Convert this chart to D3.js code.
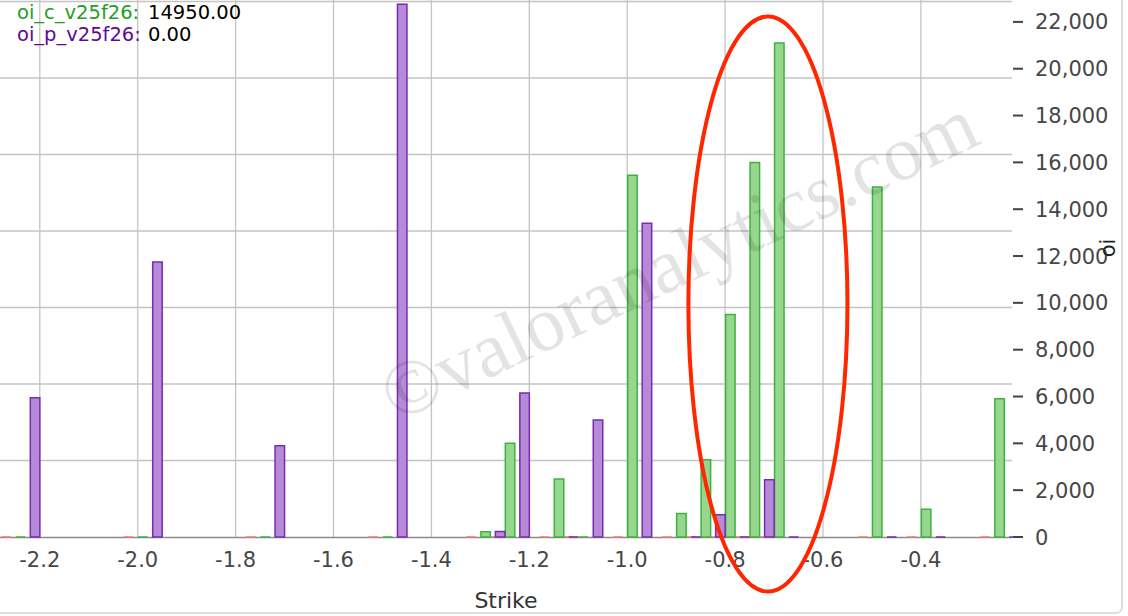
<!DOCTYPE html>
<html><head><meta charset="utf-8">
<script src="https://cdn.jsdelivr.net/npm/d3@7"></script>
<style>html,body{margin:0;padding:0;background:#fff;overflow:hidden}</style>
</head><body>
<svg id="c" width="1128" height="616"></svg>
<script>
// ---- data ----
const strikes = [-2.25, -2.0, -1.75, -1.5, -1.3, -1.25, -1.15, -1.1, -1.0, -0.9, -0.85, -0.8, -0.75, -0.7, -0.5, -0.4, -0.25];
const callOI  = [0, 0, 0, 0, 225, 4000, 2480, 0, 15450, 1000, 3300, 9500, 16000, 21100, 14950, 1180, 5900];
const putOI   = [5950, 11750, 3900, 22750, 240, 6150, 0, 5000, 13400, 0, 950, 0, 2450, 0, 0, 0, 0];
const otherOI = [0, 0, 0, 0, 0, 0, 0, 0, 0, 0, 0, 0, 0, 0, 0, 0, 0];
const xTickValues = [-2.2, -2.0, -1.8, -1.6, -1.4, -1.2, -1.0, -0.8, -0.6, -0.4];
const yTickValues = [0, 2000, 4000, 6000, 8000, 10000, 12000, 14000, 16000, 18000, 20000, 22000];
const gridSteps = [1, 2, 3, 4, 5, 6, 7];
const legendNames = ["oi_c_v25f26", "oi_p_v25f26"];
const legendValues = [14950, 0];
const xTitle = "Strike";
const yTitle = "oi";
const watermark = "\u00A9valoranalytics.com";

// ---- layout ----
const svg = d3.select("#c");
const L = 0, R = 1012, T = 0, B = 537;
const x = d3.scaleLinear().domain([-2.2813, -0.2139]).range([L, R]);
const y = d3.scaleLinear().domain([0, 22935]).range([B, T]);
const yGrid = d3.scaleLinear().domain([0, 7]).range([B, 1.5]);
const sub = d3.scaleBand().domain(["other", "call", "put"]).range([-14, 24.5]).paddingInner(0.345);
const FONT = "DejaVu Sans, Verdana, sans-serif";

// frame
svg.append("rect").attr("x", -10).attr("y", -10).attr("width", 1132).attr("height", 623)
  .attr("rx", 6).attr("fill", "#fff").attr("stroke", "#d4d4d4").attr("stroke-width", 1.5);

// grid
const grid = svg.append("g").attr("stroke", "#c4c4c4").attr("stroke-width", 1.3);
grid.selectAll("line.v").data(xTickValues).join("line").attr("class", "v")
  .attr("x1", d => x(d)).attr("x2", d => x(d)).attr("y1", T).attr("y2", B);
grid.selectAll("line.h").data(gridSteps).join("line").attr("class", "h")
  .attr("x1", L).attr("x2", R).attr("y1", d => yGrid(d)).attr("y2", d => yGrid(d));

// baseline
svg.append("line").attr("x1", L).attr("x2", R).attr("y1", B + 0.5).attr("y2", B + 0.5)
  .attr("stroke", "#8a8a8a").attr("stroke-width", 1.5);

// bars
const series = [
  {key: "other", vals: otherOI, fill: "#f3b0a8", stroke: "#ec7f73"},
  {key: "call",  vals: callOI,  fill: "#97d68e", stroke: "#3cb43c"},
  {key: "put",   vals: putOI,   fill: "#b68ad6", stroke: "#7a2bb4"}
];
series.forEach(s => {
  svg.append("g").selectAll("path").data(strikes.map((k, i) => ({k, v: s.vals[i]}))).join("path")
    .attr("d", d => {
      const x0 = x(d.k) + sub(s.key), x1 = x0 + sub.bandwidth();
      const y0 = y(0), y1 = y(d.v);
      return `M${x0},${y0}V${y1}H${x1}V${y0}Z`;
    })
    .attr("fill", s.fill).attr("stroke", s.stroke).attr("stroke-width", 1.5);
});

// x axis labels
svg.append("g").selectAll("text").data(xTickValues).join("text")
  .attr("x", d => x(d)).attr("y", 567).attr("text-anchor", "middle")
  .attr("font-family", FONT).attr("font-size", 21).attr("fill", "#474747")
  .text(d => d.toFixed(1));

svg.append("text").attr("x", 506).attr("y", 608).attr("text-anchor", "middle")
  .attr("font-family", FONT).attr("font-size", 22).attr("fill", "#333").text(xTitle);

// y axis (right)
const yAxis = svg.append("g");
yAxis.selectAll("line").data(yTickValues).join("line")
  .attr("x1", 1013).attr("x2", 1023).attr("y1", d => y(d)).attr("y2", d => y(d))
  .attr("stroke", "#444").attr("stroke-width", 2);
yAxis.selectAll("text").data(yTickValues).join("text")
  .attr("x", 1035).attr("y", d => y(d)).attr("dy", "0.36em")
  .attr("font-family", FONT).attr("font-size", 21).attr("fill", "#474747")
  .text(d => d3.format(",")(d));

svg.append("text").attr("transform", "translate(1115,248) rotate(-90)").attr("text-anchor", "middle")
  .attr("font-family", FONT).attr("font-size", 21).attr("fill", "#222").text(yTitle);

// watermark
svg.append("text").attr("transform", "translate(678,258) rotate(-25.5)").attr("text-anchor", "middle")
  .attr("dy", "0.35em").attr("font-family", "Liberation Serif, Times New Roman, serif")
  .attr("font-size", 78).attr("fill", "rgba(0,0,0,0.11)").text(watermark);

// annotation ellipse
svg.append("ellipse").attr("cx", x(-0.7125)).attr("cy", y(9950))
  .attr("rx", x(-0.55) - x(-0.7125)).attr("ry", y(0) - y(12280))
  .attr("fill", "none").attr("stroke", "#ff2600").attr("stroke-width", 4);

// legend
const legColors = ["#1f9e1f", "#5c0a96"];
const leg = svg.append("g");
legendNames.forEach((n, i) => {
  leg.append("text").attr("x", 17).attr("y", 19 + i * 22)
    .attr("font-family", FONT).attr("font-size", 19.5).attr("fill", legColors[i]).text(n + ":");
  leg.append("text").attr("x", 148).attr("y", 19 + i * 22)
    .attr("font-family", FONT).attr("font-size", 19.5).attr("fill", "#000").text(legendValues[i].toFixed(2));
});
</script>
</body></html>
